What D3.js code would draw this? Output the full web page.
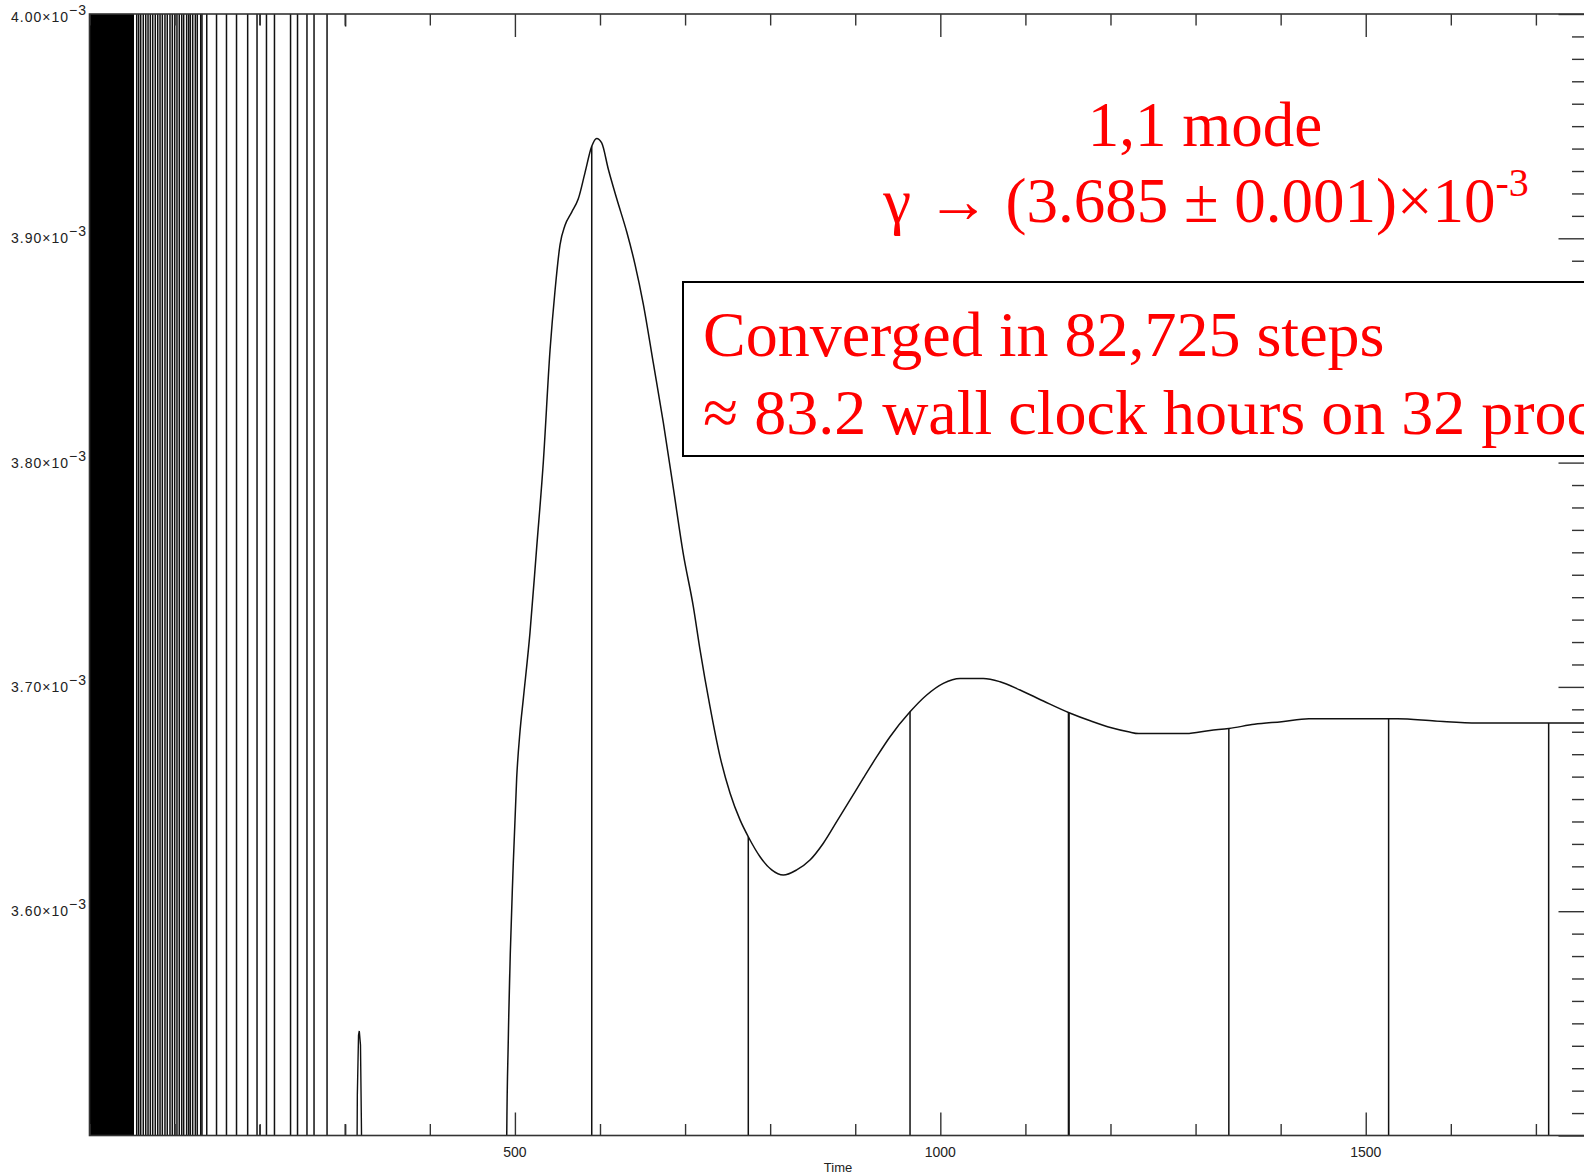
<!DOCTYPE html>
<html><head><meta charset="utf-8">
<script src="https://cdn.jsdelivr.net/npm/d3@7"></script>
<style>html,body{margin:0;padding:0;background:#fff;overflow:hidden}</style>
</head><body>
<svg id="c" width="1584" height="1175" xmlns="http://www.w3.org/2000/svg"></svg>
<script>
// ---------------- data ----------------
const xMajorTicks = [500, 1000, 1500];
const xTickLabels = ["500", "1000", "1500"];
const yLabelTicks = [4.0, 3.9, 3.8, 3.7, 3.6];          // in units of 1e-3
const yTickLabels = ["4.00", "3.90", "3.80", "3.70", "3.60"];
const xTitle = "Time";

// dense oscillation at start (faster than resolution)
const denseBand = [0, 52.3];
// times where the early signal swings across the whole range
const swingTimes = [55.5, 57.8, 60.2, 63.2, 66.1, 68.8, 71.5, 74.3, 77.3, 80.2, 82.9, 85.6,
  88.7, 91.4, 94.6, 97.3, 100.1, 102.8, 105.5, 108.4, 110.7, 114.2, 116.6, 118.5, 121.3,
  124.4, 126.7, 130.7, 132.2, 137.8, 149.3, 161.0, 172.8, 185.9, 196.9, 208.0, 217.4,
  236.3, 244.5, 255.6, 263.9, 279.2];
// short excursions entering from the top and from the bottom edge
const spikeTimes = [200.4, 301.0];
const spikeTopGamma = [3.995, 3.9944];
const spikeBottomGamma = [3.5047, 3.505];
// small burst near t = 317
const burstTime = [313.8, 314.8, 316.2, 317.1, 318.5, 319.5, 321.1];
const burstGamma = [3.45, 3.5181, 3.5448, 3.5466, 3.5403, 3.5078, 3.45];

// main growth-rate curve (gamma, 1e-3)
const curveTime = [489.5, 490.4, 492.2, 498.1, 502.1, 506.0, 509.9, 517.7, 525.6, 533.4, 541.3,
  547.1, 553.0, 558.9, 566.8, 574.5, 582.4, 590.3, 596.1, 602.0, 609.8, 619.7,
  631.4, 641.2, 650.9, 662.7, 674.4, 686.2, 697.9, 709.7, 717.6, 729.3, 741.1, 752.9, 764.6,
  774.3, 788.1, 801.8, 815.5, 831.2, 846.8, 862.5, 878.2, 893.9, 909.5, 925.3,
  940.9, 964.4, 984.0, 1003.5, 1023.2, 1050.6, 1070.2, 1093.7, 1121.1, 1151.3,
  1177.0, 1201.0, 1221.0, 1233.1, 1289.0, 1317.0, 1339.1,
  1369.2, 1401.2, 1433.2, 1537.3, 1581.4, 1631.5, 1760.0];
const curveGamma = [3.30, 3.4999, 3.5423, 3.6215, 3.6596, 3.6802, 3.6948, 3.7241, 3.7622, 3.8003,
  3.8502, 3.8765, 3.8971, 3.9058, 3.9117, 3.9176, 3.9293, 3.9410, 3.9445, 3.9425,
  3.9308, 3.9176, 3.9029, 3.8883, 3.8707, 3.8443, 3.8179, 3.7886, 3.7593, 3.7358, 3.7165,
  3.6912, 3.6689, 3.6526, 3.6407, 3.6332, 3.6243, 3.6184, 3.6161, 3.6184,
  3.6228, 3.6303, 3.6399, 3.6496, 3.6593, 3.6689, 3.6778, 3.6889, 3.6964,
  3.7016, 3.7038, 3.7038, 3.7023, 3.6986, 3.6937, 3.6885, 3.6848, 3.6818,
  3.6800, 3.6792, 3.6792, 3.6806, 3.6815, 3.6833, 3.6845, 3.6858, 3.6858,
  3.6848, 3.6839, 3.6839];
// dropouts (restart points) where the series falls below the range
const dropTime = [590.3, 774.3, 964.4, 1150.6, 1151.3, 1339.1, 1526.9, 1715.0];
const dropGamma = [3.9410, 3.6332, 3.6889, 3.6887, 3.6885, 3.6815, 3.6858, 3.6839];

const annoTitle = "1,1 mode";
const annoGamma = "\u03B3 \u2192 (3.685 \u00B1 0.001)\u00D710";
const annoGammaExp = "-3";
const boxLines = ["Converged in 82,725 steps", "\u2248 83.2 wall clock hours on 32 processors"];

// ---------------- chart ----------------
const svg = d3.select("#c");
const L = 89.5, R = 1585.5, T = 14, B = 1135.5;
const x = d3.scaleLinear().domain([0, 1758.3]).range([L, R]);
const y = d3.scaleLinear().domain([3.5, 4.0]).range([B, T]);

svg.append("rect").attr("width", 1584).attr("height", 1175).attr("fill", "#fff");

const defs = svg.append("defs");
defs.append("clipPath").attr("id", "plot").append("rect")
  .attr("x", L).attr("y", T).attr("width", R - L).attr("height", B - T);

const g = svg.append("g").attr("clip-path", "url(#plot)");
const ink = "#111";

// dense band
g.append("rect")
  .attr("x", x(denseBand[0])).attr("y", y(4.0))
  .attr("width", x(denseBand[1]) - x(denseBand[0])).attr("height", y(3.5) - y(4.0))
  .attr("fill", "#000");

// swings
g.selectAll("line.sw").data(swingTimes).enter().append("line")
  .attr("x1", d => x(d)).attr("x2", d => x(d))
  .attr("y1", y(4.05)).attr("y2", y(3.45))
  .attr("stroke", ink).attr("stroke-width", 1.5);

// spikes
g.selectAll("line.st").data(spikeTimes).enter().append("line")
  .attr("x1", d => x(d)).attr("x2", d => x(d))
  .attr("y1", y(4.05)).attr("y2", (d, i) => y(spikeTopGamma[i]))
  .attr("stroke", ink).attr("stroke-width", 1.5);
g.selectAll("line.sb").data(spikeTimes).enter().append("line")
  .attr("x1", d => x(d)).attr("x2", d => x(d))
  .attr("y1", y(3.45)).attr("y2", (d, i) => y(spikeBottomGamma[i]))
  .attr("stroke", ink).attr("stroke-width", 1.5);

const lineStraight = d3.line().x(d => x(d[0])).y(d => y(d[1]));
g.append("path").datum(burstTime.map((t, i) => [t, burstGamma[i]]))
  .attr("d", lineStraight).attr("fill", "none").attr("stroke", ink).attr("stroke-width", 1.4);

const lineSmooth = d3.line().x(d => x(d[0])).y(d => y(d[1])).curve(d3.curveMonotoneX);
g.append("path").datum(curveTime.map((t, i) => [t, curveGamma[i]]))
  .attr("d", lineSmooth).attr("fill", "none").attr("stroke", ink).attr("stroke-width", 1.5)
  .attr("stroke-linejoin", "round");

// dropouts
g.selectAll("line.dr").data(dropTime).enter().append("line")
  .attr("x1", d => x(d)).attr("x2", d => x(d))
  .attr("y1", (d, i) => y(dropGamma[i])).attr("y2", y(3.45))
  .attr("stroke", ink).attr("stroke-width", 1.5);

// ---------------- axes ----------------
const axisColor = "#333";
const majX = 23, minX = 11.5, majY = 27, minY = 13.5;
const xMinor = x.ticks(18).filter(v => xMajorTicks.indexOf(v) < 0);
const yMinor = y.ticks(50).filter(v => Math.abs(v * 10 - Math.round(v * 10)) > 1e-6);
const yMajor = y.ticks(5);

function styleAxis(sel) {
  sel.select(".domain").remove();
  sel.selectAll(".tick line").attr("stroke", axisColor).attr("stroke-width", 1.4);
  sel.selectAll(".tick text").remove();
}
// bottom
svg.append("g").attr("transform", `translate(0,${B})`)
  .call(d3.axisBottom(x).tickValues(xMajorTicks).tickSize(-majX)).call(styleAxis);
svg.append("g").attr("transform", `translate(0,${B})`)
  .call(d3.axisBottom(x).tickValues(xMinor).tickSize(-minX)).call(styleAxis);
// top
svg.append("g").attr("transform", `translate(0,${T})`)
  .call(d3.axisTop(x).tickValues(xMajorTicks).tickSize(-majX)).call(styleAxis);
svg.append("g").attr("transform", `translate(0,${T})`)
  .call(d3.axisTop(x).tickValues(xMinor).tickSize(-minX)).call(styleAxis);
// right
svg.append("g").attr("transform", `translate(${R},0)`)
  .call(d3.axisRight(y).tickValues(yMajor).tickSize(-majY)).call(styleAxis);
svg.append("g").attr("transform", `translate(${R},0)`)
  .call(d3.axisRight(y).tickValues(yMinor).tickSize(-minY)).call(styleAxis);

// frame
svg.append("rect").attr("x", L).attr("y", T).attr("width", R - L).attr("height", B - T)
  .attr("fill", "none").attr("stroke", axisColor).attr("stroke-width", 1.6);

// x labels
const sans = "Liberation Sans, Arial, sans-serif";
svg.selectAll("text.xl").data(xMajorTicks).enter().append("text")
  .attr("x", d => x(d)).attr("y", B + 21)
  .attr("text-anchor", "middle").attr("font-family", sans)
  .attr("font-size", 14).attr("fill", "#222")
  .text((d, i) => xTickLabels[i]);
svg.append("text").attr("x", 838).attr("y", 1172)
  .attr("text-anchor", "middle").attr("font-family", sans)
  .attr("font-size", 13).attr("fill", "#222").text(xTitle);

// y labels
const yl = svg.selectAll("text.yl").data(yLabelTicks).enter().append("text")
  .attr("x", 11).attr("y", d => Math.max(y(d) + 5, 22))
  .attr("font-family", sans).attr("letter-spacing", 1)
  .attr("font-size", 14).attr("fill", "#222");
yl.append("tspan").text((d, i) => yTickLabels[i] + "\u00D710");
yl.append("tspan").attr("dy", -7).attr("font-size", 14).text("\u22123");

// ---------------- annotations ----------------
const red = "#ff0000";
const serif = "Liberation Serif, Times New Roman, serif";
svg.append("text").attr("x", 1205).attr("y", 146).attr("text-anchor", "middle")
  .attr("font-family", serif).attr("font-size", 63).attr("fill", red).text(annoTitle);
const gt = svg.append("text").attr("x", 1206).attr("y", 222).attr("text-anchor", "middle")
  .attr("font-family", serif).attr("font-size", 63).attr("fill", red);
gt.append("tspan").text(annoGamma);
gt.append("tspan").attr("dy", -26).attr("font-size", 40).text(annoGammaExp);

svg.append("rect").attr("x", 683).attr("y", 282).attr("width", 1000).attr("height", 174)
  .attr("fill", "#fff").attr("stroke", "#000").attr("stroke-width", 2);
svg.selectAll("text.bx").data(boxLines).enter().append("text")
  .attr("x", 703).attr("y", (d, i) => 356 + i * 78)
  .attr("font-family", serif).attr("font-size", 64).attr("fill", red).text(d => d);
</script>
</body></html>
